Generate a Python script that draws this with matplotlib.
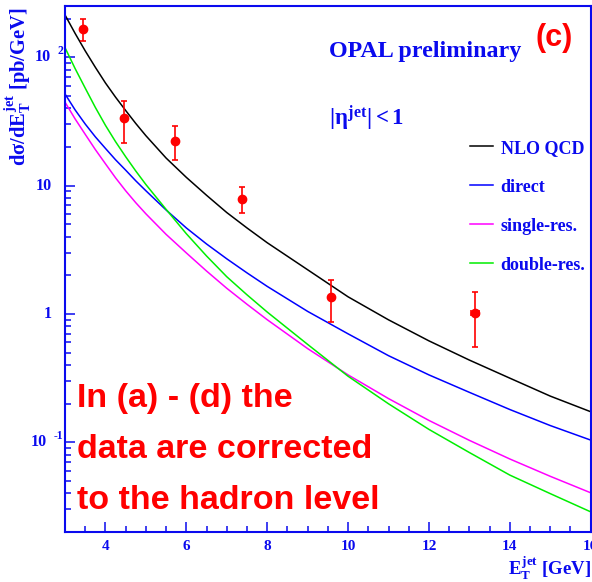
import matplotlib
matplotlib.use("Agg")
import matplotlib.pyplot as plt
import matplotlib.transforms as mtransforms
from matplotlib.ticker import MultipleLocator, LogLocator, NullFormatter, FixedLocator

# ---------------- data ----------------
et_grid = [3, 3.25, 3.5, 3.75, 4, 4.25, 4.5, 4.75, 5, 5.5, 6, 6.5, 7, 7.5, 8,
           9, 10, 11, 12, 13, 14, 15, 16]
nlo_qcd = [213.8, 153.5, 112.2, 83.6, 63.1, 48.9, 38.5, 30.5, 24.5, 16.4,
           11.6, 8.41, 6.17, 4.68, 3.59, 2.21, 1.36, 0.90, 0.617, 0.437,
           0.316, 0.229, 0.173]
direct = [51.8, 38.9, 30.2, 24.0, 19.5, 15.9, 13.2, 10.9, 9.12, 6.46, 4.68,
          3.51, 2.69, 2.09, 1.64, 1.047, 0.70, 0.473, 0.335, 0.245, 0.180,
          0.135, 0.104]
single_res = [44.7, 33.1, 25.1, 19.1, 14.8, 11.5, 9.12, 7.36, 6.03, 4.17,
              2.99, 2.16, 1.585, 1.19, 0.902, 0.537, 0.335, 0.219, 0.148,
              0.1035, 0.0741, 0.0543, 0.0404]
double_res = [118.9, 81.7, 57.5, 40.7, 29.5, 22.0, 16.8, 13.0, 10.2, 6.53,
              4.22, 2.83, 1.95, 1.41, 1.035, 0.579, 0.327, 0.1995, 0.126,
              0.0832, 0.0555, 0.0398, 0.0287]

series_labels = ["NLO QCD", "direct", "single-res.", "double-res."]
series_colors = ["black", "#0000ff", "#ff00ff", "#00ee00"]

et_data = [3.45, 4.47, 5.71, 7.38, 9.59, 13.13]
xs_data = [166.0, 33.5, 22.4, 7.87, 1.36, 1.01]
err_up = [32.6, 11.9, 6.8, 1.83, 0.47, 0.46]
err_dn = [31.4, 12.1, 6.7, 1.77, 0.50, 0.46]
et_err = [0, 0, 0, 0, 0, 0.1]

xtick_values = [4, 6, 8, 10, 12, 14, 16]
ytick_values = [0.1, 1, 10, 100]
ytick_base = ["10", "1", "10", "10"]
ytick_exp = ["-1", "", "", "2"]

note_lines = ["In (a) - (d) the", "data are corrected", "to the hadron level"]

# ---------------- style ----------------
W, H = 592, 582
BLUE = "#0a0aee"
plt.rcParams["mathtext.fontset"] = "custom"
plt.rcParams["mathtext.rm"] = "Liberation Serif:bold"
plt.rcParams["mathtext.it"] = "Liberation Serif:bold"
plt.rcParams["mathtext.bf"] = "Liberation Serif:bold"
plt.rcParams["mathtext.sf"] = "Liberation Serif:bold"
SERIF = dict(family="Liberation Serif", weight="bold")
SANS = dict(family="Liberation Sans", weight="bold")

fig = plt.figure(figsize=(W / 100, H / 100), dpi=100)
L, R, T, B = 65, 590.7, 6, 531.7
ax = fig.add_axes([L / W, 1 - B / H, (R - L) / W, (B - T) / H])


def px(x, y):
    return x / W, 1 - y / H


# curves
for vals, lab, col in zip([nlo_qcd, direct, single_res, double_res],
                          series_labels, series_colors):
    ax.plot(et_grid, vals, color=col, lw=1.1, label=lab)

# data points
ax.errorbar(et_data, xs_data, yerr=[err_dn, err_up], xerr=et_err, fmt="o",
            color="#ff0000", ms=6, elinewidth=1.2, capsize=2, capthick=1.2,
            zorder=5)

ax.set_yscale("log")
ax.set_xlim(3, 16)
ax.set_ylim(0.0201, 251)

for s in ax.spines.values():
    s.set_color(BLUE)
    s.set_linewidth(1.5)

ax.xaxis.set_major_locator(FixedLocator(xtick_values))
ax.xaxis.set_minor_locator(MultipleLocator(0.5))
ax.yaxis.set_major_locator(FixedLocator(ytick_values))
ax.yaxis.set_minor_locator(LogLocator(base=10, subs=range(2, 10)))
ax.yaxis.set_minor_formatter(NullFormatter())
ax.set_yticklabels([])
ax.tick_params(which="both", direction="in", color=BLUE, width=1.1,
               top=False, right=False)
ax.tick_params(which="major", length=7.2)
ax.tick_params(which="minor", length=4.2)
ax.tick_params(axis="x", which="major", pad=6, labelsize=11, labelcolor=BLUE)
for t in ax.get_xticklabels():
    t.set_fontfamily("Liberation Serif")
    t.set_fontweight("bold")

# y tick labels in ROOT style
fig.canvas.draw()
renderer = fig.canvas.get_renderer()
ident = mtransforms.IdentityTransform()
for yv, base, ex in zip(ytick_values, ytick_base, ytick_exp):
    ydisp = ax.transData.transform((3, yv))[1]
    if ex:
        te = fig.text(63, ydisp + 6, ex, transform=ident, ha="right",
                      va="center", color=BLUE, fontsize=8.5, **SERIF)
        w = te.get_window_extent(renderer).width
        xb = 63 - w - 6.5
    else:
        xb = 51.7
    fig.text(xb, ydisp, base, transform=ident, ha="right", va="center",
             color=BLUE, fontsize=11.5, **SERIF)

# axis labels
ax.set_ylabel("dσ/d$E_{T}^{jet}$ [pb/GeV]", color=BLUE, fontsize=14.8, **SERIF)
ax.yaxis.set_label_coords(-0.061, 0.846)
ax.set_xlabel("$E_{T}^{jet}$ [GeV]", color=BLUE, fontsize=13.5, **SERIF)
ax.xaxis.set_label_coords(1.0, -0.044)
ax.xaxis.label.set_ha("right")

# legend
leg = ax.legend(loc="upper left",
                bbox_to_anchor=((470 - L) / (R - L), (B - 139.7) / (B - T)),
                frameon=False, handlelength=1.3, handletextpad=0.4,
                labelspacing=1.22, borderpad=0, borderaxespad=0,
                prop=dict(family="Liberation Serif", weight="bold", size=13),
                labelcolor=BLUE)

# annotations
fig.text(*px(329, 56.7), "OPAL preliminary", ha="left", va="baseline",
         color=BLUE, fontsize=17.3, **SERIF)
fig.text(*px(329, 125), r"$|\eta^{jet}| < 1$", ha="left", va="baseline",
         color=BLUE, fontsize=16.5, **SERIF)
fig.text(*px(554, 45.7), "(c)", ha="center", va="baseline", color="#ff0000",
         fontsize=22, **SANS)

for i, line in enumerate(note_lines):
    fig.text(*px(76.7, 406.7 + 51 * i), line, ha="left", va="baseline",
             color="#ff0000", fontsize=24.5, **SANS)

fig.savefig("out.png", dpi=100)
